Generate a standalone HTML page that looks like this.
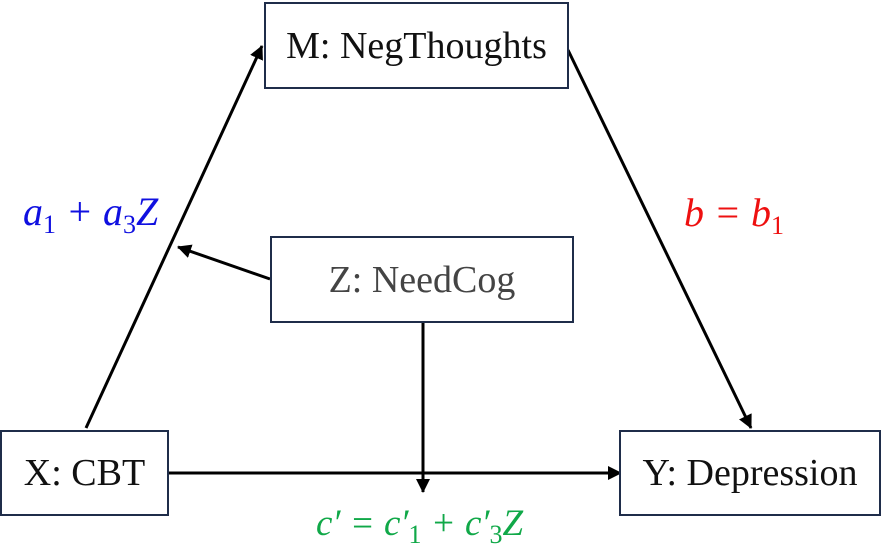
<!DOCTYPE html>
<html><head><meta charset="utf-8"><style>
body{margin:0;width:881px;height:552px;background:#fff;position:relative;overflow:hidden;font-family:"Liberation Serif",serif}
.b{position:absolute;border:2px solid #1f2d4a;box-sizing:border-box;display:flex;align-items:center;justify-content:center;font-size:38px;color:#111;background:#fff}
.m{position:absolute;font-style:italic;font-size:38px;white-space:nowrap;line-height:1}
sub{font-size:26px;font-style:normal;vertical-align:-8px}
</style></head><body>
<svg width="881" height="552" style="position:absolute;left:0;top:0">
<defs><marker id="a" markerWidth="14" markerHeight="14" refX="13" refY="7" orient="auto" markerUnits="userSpaceOnUse"><path d="M0,0L14,7L0,14z" fill="#000"/></marker></defs>
<g stroke="#000" stroke-width="3" fill="none">
<line x1="86" y1="428" x2="262" y2="46" marker-end="url(#a)"/>
<line x1="568" y1="50" x2="751" y2="428" marker-end="url(#a)"/>
<line x1="270" y1="279" x2="178" y2="247" marker-end="url(#a)"/>
<line x1="168" y1="473" x2="621" y2="473" marker-end="url(#a)"/>
<line x1="423" y1="322" x2="423" y2="492" marker-end="url(#a)"/>
</g></svg>
<div class="b" style="left:264px;top:2px;width:305px;height:87px">M: NegThoughts</div>
<div class="b" style="left:270px;top:236px;width:304px;height:87px;color:#444">Z: NeedCog</div>
<div class="b" style="left:0;top:430px;width:169px;height:86px">X: CBT</div>
<div class="b" style="left:619px;top:430px;width:262px;height:86px">Y: Depression</div>
<div class="m" style="left:23px;top:192px;color:#1010e0;font-size:40px">a<sub>1</sub> + a<sub>3</sub>Z</div>
<div class="m" style="left:684px;top:193px;color:#ee1010;font-size:40px">b = b<sub>1</sub></div>
<div class="m" style="left:316px;top:505px;color:#10a848;font-size:37px">c′ = c′<sub>1</sub> + c′<sub>3</sub>Z</div>
</body></html>
